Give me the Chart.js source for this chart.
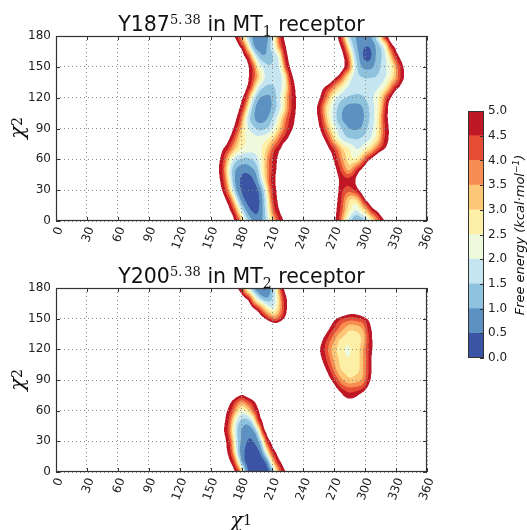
<!DOCTYPE html>
<html>
<head>
<meta charset="utf-8">
<script src="https://cdn.jsdelivr.net/npm/chart.js@4.4.1/dist/chart.umd.min.js"></script>
<style>
  html, body { margin: 0; padding: 0; background: #fff; }
  #fig { position: relative; width: 527px; height: 530px; overflow: hidden; background: #fff;
         font-family: 'DejaVu Sans', sans-serif; color: #111; }
  #fig canvas { position: absolute; }
  .title { position: absolute; left: 56px; width: 371px; text-align: center; font-size: 20.5px;
           line-height: 20px; white-space: nowrap; }
  .title sup { font-family: 'DejaVu Serif', serif; font-size: 13px; vertical-align: 7px; line-height: 0; }
  .title sup span { margin-left: 2px; }
  .title sub { font-family: 'DejaVu Serif', serif; font-size: 14px; vertical-align: -5px; line-height: 0; }
  .axlab { position: absolute; width: 60px; height: 30px; display: flex; align-items: center;
           justify-content: center; font-family: 'DejaVu Serif', serif; font-size: 21px;
           font-style: italic; white-space: nowrap; }
  .axlab sub { font-style: normal; font-size: 14px; vertical-align: -4px; line-height: 0; }
  .rot { transform: rotate(-90deg); }
  #cblabel { position: absolute; left: 420px; top: 225px; width: 200px; height: 20px; line-height: 20px;
             text-align: center; font-size: 13px; font-style: italic; white-space: nowrap;
             transform: rotate(-90deg); }
  #cblabel sup { font-size: 9px; vertical-align: 5px; line-height: 0; }
</style>
</head>
<body>
<div id="fig">
  <canvas id="mt1" width="440" height="260" style="left:0;top:0;"></canvas>
  <canvas id="mt2" width="440" height="259" style="left:0;top:252px;"></canvas>
  <canvas id="cbar" width="87" height="270" style="left:440px;top:100px;"></canvas>

  <div class="title" style="top:14px;">Y187<sup>5.<span>38</span></sup> in MT<sub>1</sub> receptor</div>
  <div class="title" style="top:266px;">Y200<sup>5.<span>38</span></sup> in MT<sub>2</sub> receptor</div>

  <div class="axlab rot" style="left:-13px;top:113px;">χ<sub>2</sub></div>
  <div class="axlab rot" style="left:-13px;top:365px;">χ<sub>2</sub></div>
  <div class="axlab" style="left:211px;top:505px;">χ<sub>1</sub></div>

  <div id="cblabel">Free energy (kcal·mol<sup>−1</sup>)</div>
</div>

<script>
// Axis ticks and the free-energy contour levels (kcal/mol)
const chi1TickValues = [0, 30, 60, 90, 120, 150, 180, 210, 240, 270, 300, 330, 360];
const chi2TickValues = [0, 30, 60, 90, 120, 150, 180];
const energyLevels = [0.0, 0.5, 1.0, 1.5, 2.0, 2.5, 3.0, 3.5, 4.0, 4.5, 5.0];

// Free-energy surfaces, sampled every 10 degrees of chi2.
// Each entry: [chi2, [[chi1, energy], ...]] -- the energy profile across one basin along that row.

// MT1, Y187: basin around chi1 ~ 160-235
const mt1LeftBand = [
  [0,   [[173,5],[177,4.5],[182,2.5],[186,1.5],[191,0.9],[196,0.7],[201,1.0],[206,2.0],[211,3.2],[216,4.5],[221,5]]],
  [10,  [[169,5],[173,4.5],[178,2.5],[182,1.4],[186,0.75],[189,0.5],[194,0.3],[198,0.6],[203,1.5],[207,2.7],[212,4.5],[217,5]]],
  [20,  [[165,5],[169,4.5],[174,2.5],[178,1.2],[181,0.7],[184,0.45],[191,0.08],[197,0.4],[200,0.9],[205,2.2],[210,4.5],[215,5]]],
  [30,  [[161,5],[165,4.5],[170,2.5],[174,1.2],[177,0.7],[181,0.4],[188,0.05],[195,0.35],[199,0.9],[203,2.0],[209,4.5],[214,5]]],
  [40,  [[159,5],[163,4.5],[168,2.5],[172,1.2],[176,0.65],[180,0.4],[185,0.15],[191,0.4],[195,0.85],[200,2.0],[208,4.5],[213,5]]],
  [50,  [[158,5],[162,4.5],[167,2.5],[172,1.2],[177,0.8],[183,0.65],[189,0.8],[195,1.2],[200,2.5],[209,4.5],[214,5]]],
  [60,  [[159,5],[163,4.5],[169,2.5],[175,1.6],[184,1.3],[193,1.6],[200,2.5],[209,4.5],[215,5]]],
  [70,  [[162,5],[167,4.5],[174,3.0],[181,2.4],[190,2.15],[199,2.4],[206,3.2],[212,4.5],[218,5]]],
  [80,  [[168,5],[172,4.5],[178,3.0],[185,2.4],[195,2.15],[205,2.4],[212,3.2],[219,4.5],[225,5]]],
  [90,  [[172,5],[176,4.5],[182,2.6],[188,1.9],[197,1.3],[205,1.5],[212,2.2],[218,3.3],[224,4.5],[230,5]]],
  [100, [[175,5],[179,4.5],[184,2.3],[189,1.3],[195,0.8],[200,0.75],[205,0.95],[210,1.5],[216,2.3],[221,3.5],[226,4.5],[232,5]]],
  [110, [[178,5],[182,4.5],[187,2.3],[191,1.3],[195,0.8],[199,0.6],[205,0.65],[209,1.0],[214,1.5],[220,2.3],[224,3.5],[228,4.5],[233,5]]],
  [120, [[181,5],[185,4.5],[190,2.3],[194,1.4],[198,0.95],[207,0.85],[212,1.3],[219,2.2],[224,3.5],[228,4.5],[233,5]]],
  [130, [[185,5],[189,4.5],[194,2.5],[198,1.7],[204,1.35],[210,1.4],[216,1.7],[222,2.3],[225,3.5],[228,4.5],[232,5]]],
  [140, [[187,5],[191,4.5],[197,3.0],[202,2.0],[207,1.7],[216,1.7],[222,2.3],[226,4.5],[230,5]]],
  [150, [[187,5],[191,4.5],[196,2.5],[200,2.0],[205,1.55],[213,1.6],[219,2.3],[223,4.5],[227,5]]],
  [160, [[183,5],[187,4.5],[193,2.0],[197,1.4],[200,1.05],[206,1.1],[212,1.6],[217,2.2],[221,4.5],[225,5]]],
  [170, [[178,5],[182,4.5],[188,2.0],[192,1.0],[195,0.65],[201,0.65],[205,1.0],[211,2.0],[219,4.5],[223,5]]],
  [180, [[173,5],[177,4.5],[184,2.0],[190,1.0],[193,0.75],[203,0.75],[207,1.0],[211,2.0],[217,4.5],[221,5]]]
];

// MT1, Y187: basin around chi1 ~ 255-340
const mt1RightBand = [
  [0,   [[271,5],[275,4.5],[279,3.0],[283,2.0],[287,1.3],[292,0.9],[297,1.1],[302,1.7],[308,3.0],[315,4.5],[319,5]]],
  [10,  [[272,5],[276,4.5],[282,3.0],[291,1.8],[300,3.0],[306,4.5],[311,5]]],
  [20,  [[273,5],[277,4.5],[281,3.5],[287,2.7],[292,2.9],[296,3.8],[298,4.5],[301,5]]],
  [30,  [[274,5],[278,4.5],[284,4.1],[290,4.5],[294,5]]],
  [40,  [[274,5],[282,4.6],[291,5]]],
  [50,  [[272,5],[276,4.5],[280,3.8],[284,3.2],[288,3.8],[292,4.5],[296,5]]],
  [60,  [[269,5],[273,4.5],[278,3.5],[285,2.6],[292,2.6],[297,3.5],[301,4.5],[305,5]]],
  [70,  [[265,5],[270,4.5],[278,3.0],[293,1.9],[305,3.0],[314,4.5],[319,5]]],
  [80,  [[260,5],[264,4.5],[270,3.0],[276,2.0],[283,1.55],[292,1.45],[300,1.7],[306,2.1],[313,3.0],[318,4.5],[323,5]]],
  [90,  [[256,5],[260,4.5],[266,3.0],[272,2.0],[278,1.4],[284,1.0],[290,0.9],[296,1.0],[302,1.5],[308,2.0],[314,3.0],[319,4.5],[323,5]]],
  [100, [[254,5],[258,4.5],[263,3.0],[268,2.0],[272,1.5],[277,1.0],[281,0.75],[288,0.6],[295,0.75],[299,1.0],[304,1.5],[309,2.0],[314,3.0],[318,4.5],[322,5]]],
  [110, [[253,5],[257,4.5],[262,3.0],[268,2.0],[273,1.5],[279,1.0],[283,0.8],[290,0.7],[296,0.85],[300,1.2],[305,1.6],[310,2.1],[315,3.0],[319,4.5],[322,5]]],
  [120, [[256,5],[260,4.5],[266,3.0],[272,2.0],[278,1.6],[285,1.4],[293,1.35],[300,1.5],[307,1.9],[313,2.5],[318,3.5],[321,4.5],[325,5]]],
  [130, [[260,5],[265,4.5],[274,3.0],[282,2.0],[288,1.7],[298,1.6],[308,1.7],[315,2.1],[321,2.8],[328,4.5],[333,5]]],
  [140, [[272,5],[276,4.5],[282,3.0],[287,2.0],[292,1.6],[300,1.45],[310,1.5],[318,1.8],[324,2.5],[330,3.5],[334,4.5],[338,5]]],
  [150, [[280,5],[284,4.5],[288,2.5],[291,1.7],[295,1.1],[300,0.8],[306,0.85],[312,1.3],[320,1.9],[326,2.5],[332,4.2],[334,4.5],[337,5]]],
  [160, [[279,5],[283,4.5],[287,2.5],[290,1.6],[294,1.0],[298,0.45],[302,0.25],[306,0.45],[310,1.0],[316,1.5],[322,2.3],[329,4.5],[333,5]]],
  [170, [[276,5],[280,4.5],[284,2.5],[288,1.5],[292,1.0],[296,0.65],[300,0.5],[304,0.5],[307,0.65],[310,1.0],[315,1.5],[320,2.5],[324,4.5],[328,5]]],
  [180, [[273,5],[277,4.5],[281,2.5],[285,1.5],[290,1.0],[294,0.85],[302,0.85],[306,1.0],[310,1.5],[314,2.5],[318,4.5],[321,5]]]
];

// MT2, Y200: lower basin (chi2 0-75)
const mt2LowerLobe = [
  [0,  [[173.6,5],[177.5,4.5],[181,2.5],[184,1.0],[186,0.5],[190,0.2],[200,0.1],[207,0.4],[210,1.0],[213,2.5],[218.5,4.5],[223,5]]],
  [10, [[169,5],[173,4.5],[177,2.5],[180,1.0],[183,0.5],[188,0.15],[198,0.1],[203,0.45],[206,1.0],[209,2.5],[214,4.5],[218,5]]],
  [20, [[166,5],[170,4.5],[174,2.5],[177,1.2],[180,0.7],[184,0.4],[190,0.15],[197,0.4],[200,0.9],[204,2.3],[209,4.5],[213,5]]],
  [30, [[165,5],[169,4.5],[173,2.5],[177,1.3],[181,0.8],[185,0.5],[189,0.4],[193,0.55],[197,1.0],[201,2.3],[204,4.5],[208,5]]],
  [40, [[163,5],[167,4.5],[172,2.5],[177,1.2],[182,0.8],[186,0.65],[190,0.75],[194,1.2],[197,2.3],[200,4.5],[203,5]]],
  [50, [[164,5],[168,4.5],[173,2.5],[178,1.5],[183,1.2],[188,1.4],[192,2.2],[196,4.5],[200,5]]],
  [60, [[166,5],[170.5,4.5],[176,3.0],[181,2.2],[187,3.0],[193,4.5],[197,5]]],
  [70, [[171,5],[175,4.5],[180,3.8],[186,4.5],[192,5]]],
  [80, [[175,6.4],[181,6.0],[187,6.4]]]
];

// MT2, Y200: upper basin running into chi2 = 180
const mt2UpperLobe = [
  [140, [[207,6.8],[213,6.5],[219,6.8]]],
  [150, [[203,5],[206,4.5],[213,3.8],[218,4.5],[221,5]]],
  [160, [[192,5],[196,4.5],[203,3.0],[210,1.9],[216,3.0],[221,4.5],[224,5]]],
  [170, [[184,5],[188,4.5],[193,2.5],[198,1.5],[203,1.0],[207,1.1],[211,1.7],[215,2.5],[220,4.5],[224,5]]],
  [180, [[176,5],[180,4.5],[185,2.5],[189,1.5],[193,0.8],[198,0.45],[203,0.4],[207,0.7],[211,1.5],[214,2.5],[218,4.5],[221,5]]]
];

// MT2, Y200: shallow basin near chi1 ~ 285
const mt2SideLobe = [
  [70,  [[279,5.6],[285,5.2],[292,5.6]]],
  [80,  [[274,5],[278,4.6],[284,4.3],[292,4.4],[297,4.6],[300,5]]],
  [90,  [[267,5],[271,4.5],[274,4.0],[278,3.5],[285,3.1],[292,3.3],[297,3.5],[300,4.0],[302,4.5],[305,5]]],
  [100, [[262,5],[266,4.5],[269,4.0],[272,3.5],[276,3.0],[284,2.7],[292,2.85],[295,3.0],[298,3.5],[301,4.0],[303,4.5],[306,5]]],
  [110, [[258,5],[262.5,4.5],[266,4.0],[269,3.5],[274,3.0],[283,2.5],[290,2.7],[295,3.0],[298,3.5],[301,4.0],[303,4.5],[306,5]]],
  [120, [[256,5],[261,4.5],[264,4.0],[267,3.5],[272,3.0],[282,2.35],[290,2.65],[295,3.0],[298,3.5],[300.5,4.0],[303,4.5],[307,5]]],
  [130, [[259,5],[263,4.5],[267,4.0],[271,3.5],[275,3.0],[283,2.7],[292,2.75],[297,3.0],[300,3.5],[303,4.5],[307,5]]],
  [140, [[265,5],[269,4.5],[274,4.0],[279,3.5],[285,3.05],[292,3.15],[298,3.5],[302,4.5],[306,5]]],
  [150, [[272,5],[277,4.5],[287,4.2],[297,4.5],[302,5]]],
  [160, [[282,6.3],[288,6.0],[294,6.3]]]
];

// ---- styling ----
const levelColors = ['#3b55a4', '#5c91c2', '#8fc3dd', '#c5e6f0', '#eff9db',
                     '#feefa7', '#fdc778', '#f88d52', '#e54e35', '#be1826'];
const TEXT = '#222';
const FRAME = '#333';
const TICK_FONT = { family: 'DejaVu Sans', size: 12 };

Chart.defaults.font.family = 'DejaVu Sans';
Chart.defaults.color = TEXT;

// ---- surface evaluation ----
const ROW_STEP = 10;          // chi2 spacing between sampled rows
const OUTSIDE_SLOPE = 0.15;   // energy rise per degree beyond a basin's outer knot
const CEILING = 9;
const SMOOTH_SIGMA = 1.5;     // smoothing of the sampled surface, in screen pixels

function buildRows(bands) {
  const rows = [];
  for (let r = 0; r <= 180 / ROW_STEP; r++) rows.push([]);
  for (const band of bands) {
    for (const [c2, knots] of band) rows[Math.round(c2 / ROW_STEP)].push(knots);
  }
  return rows;
}

function rowEnergy(knotSets, chi1) {
  let best = CEILING;
  for (const k of knotSets) {
    const n = k.length;
    if (chi1 >= k[0][0] && chi1 <= k[n - 1][0]) {
      for (let i = 0; i < n - 1; i++) {
        if (chi1 <= k[i + 1][0]) {
          const t = (chi1 - k[i][0]) / (k[i + 1][0] - k[i][0]);
          return k[i][1] + t * (k[i + 1][1] - k[i][1]);
        }
      }
    }
    const out = chi1 < k[0][0]
      ? k[0][1] + OUTSIDE_SLOPE * (k[0][0] - chi1)
      : k[n - 1][1] + OUTSIDE_SLOPE * (chi1 - k[n - 1][0]);
    best = Math.min(best, out);
  }
  return Math.min(best, CEILING);
}

function gaussianSmooth(f, W, H, sigma) {
  const r = Math.ceil(sigma * 3);
  const k = new Float32Array(2 * r + 1);
  let s = 0;
  for (let i = -r; i <= r; i++) { k[i + r] = Math.exp(-i * i / (2 * sigma * sigma)); s += k[i + r]; }
  for (let i = 0; i < k.length; i++) k[i] /= s;
  const tmp = new Float32Array(W * H);
  for (let j = 0; j < H; j++) {
    const row = j * W;
    for (let i = 0; i < W; i++) {
      let acc = 0;
      for (let q = -r; q <= r; q++) {
        let ii = i + q; if (ii < 0) ii = 0; else if (ii >= W) ii = W - 1;
        acc += k[q + r] * f[row + ii];
      }
      tmp[row + i] = acc;
    }
  }
  const out = new Float32Array(W * H);
  for (let j = 0; j < H; j++) {
    for (let i = 0; i < W; i++) {
      let acc = 0;
      for (let q = -r; q <= r; q++) {
        let jj = j + q; if (jj < 0) jj = 0; else if (jj >= H) jj = H - 1;
        acc += k[q + r] * tmp[jj * W + i];
      }
      out[j * W + i] = acc;
    }
  }
  return out;
}

function hexToRgb(h) {
  const n = parseInt(h.slice(1), 16);
  return [(n >> 16) & 255, (n >> 8) & 255, n & 255];
}
const levelRgb = levelColors.map(hexToRgb);

function levelIndex(v) {
  for (let k = 0; k < energyLevels.length - 1; k++) {
    if (v < energyLevels[k + 1]) return k;
  }
  return -1;
}

// Filled contour layer, painted under the grid
function surfacePlugin(bands) {
  const rows = buildRows(bands);
  return {
    id: 'energySurface',
    beforeDraw(chart) {
      const { ctx, chartArea: a, scales: { x, y } } = chart;
      const S = 2;
      const w = Math.round(a.right - a.left), h = Math.round(a.bottom - a.top);
      const W = w * S, H = h * S;
      const rowVals = rows.map(knotSets => {
        const arr = new Float32Array(W);
        for (let i = 0; i < W; i++) {
          arr[i] = rowEnergy(knotSets, x.getValueForPixel(a.left + (i + 0.5) / S));
        }
        return arr;
      });
      const nR = rows.length;
      const field = new Float32Array(W * H);
      for (let j = 0; j < H; j++) {
        let c2 = y.getValueForPixel(a.top + (j + 0.5) / S);
        c2 = Math.max(0, Math.min(180, c2));
        let r = Math.floor(c2 / ROW_STEP);
        if (r >= nR - 1) r = nR - 2;
        const t = c2 / ROW_STEP - r;
        const R0 = rowVals[Math.max(0, r - 1)], R1 = rowVals[r],
              R2 = rowVals[r + 1], R3 = rowVals[Math.min(nR - 1, r + 2)];
        const t2 = t * t, t3 = t2 * t;
        for (let i = 0; i < W; i++) {
          const p0 = R0[i], p1 = R1[i], p2 = R2[i], p3 = R3[i];
          let v = 0.5 * (2 * p1 + (-p0 + p2) * t + (2 * p0 - 5 * p1 + 4 * p2 - p3) * t2 +
                         (-p0 + 3 * p1 - 3 * p2 + p3) * t3);
          const lo = Math.min(p1, p2), hi = Math.max(p1, p2);
          if (v < lo) v = lo; else if (v > hi) v = hi;
          field[j * W + i] = v;
        }
      }
      const sm = gaussianSmooth(field, W, H, SMOOTH_SIGMA * S);
      const off = document.createElement('canvas');
      off.width = W; off.height = H;
      const octx = off.getContext('2d');
      const img = octx.createImageData(W, H);
      const d = img.data;
      for (let p = 0; p < W * H; p++) {
        const k = levelIndex(sm[p]);
        if (k < 0) continue;
        const o = p * 4, c = levelRgb[k];
        d[o] = c[0]; d[o + 1] = c[1]; d[o + 2] = c[2]; d[o + 3] = 255;
      }
      octx.putImageData(img, 0, 0);
      ctx.save();
      ctx.imageSmoothingEnabled = true;
      ctx.imageSmoothingQuality = 'high';
      ctx.drawImage(off, a.left, a.top, w, h);
      ctx.restore();
    }
  };
}

// Axes frame and inward tick marks on all four sides
const framePlugin = {
  id: 'frameTicks',
  afterDraw(chart) {
    const { ctx, chartArea: a, scales: { x, y } } = chart;
    const L = 4;
    ctx.save();
    ctx.strokeStyle = FRAME;
    ctx.lineWidth = 1;
    ctx.beginPath();
    for (const v of chi1TickValues) {
      const px = Math.round(x.getPixelForValue(v)) + 0.5;
      ctx.moveTo(px, a.bottom); ctx.lineTo(px, a.bottom - L);
      ctx.moveTo(px, a.top); ctx.lineTo(px, a.top + L);
    }
    for (const v of chi2TickValues) {
      const py = Math.round(y.getPixelForValue(v)) + 0.5;
      ctx.moveTo(a.left, py); ctx.lineTo(a.left + L, py);
      ctx.moveTo(a.right, py); ctx.lineTo(a.right - L, py);
    }
    ctx.stroke();
    ctx.lineWidth = 1.2;
    ctx.strokeRect(a.left + 0.5, a.top + 0.5, a.right - a.left - 1, a.bottom - a.top - 1);
    ctx.restore();
  }
};

function makePanel(id, bands) {
  return new Chart(document.getElementById(id), {
    type: 'scatter',
    data: { datasets: [] },
    options: {
      responsive: false,
      animation: false,
      events: [],
      layout: { padding: { left: 0, top: 36, right: 13, bottom: 0 } },
      plugins: { legend: { display: false }, tooltip: { enabled: false }, title: { display: false } },
      scales: {
        x: {
          type: 'linear', min: 0, max: 360,
          afterBuildTicks: s => { s.ticks = chi1TickValues.map(v => ({ value: v })); },
          afterFit: s => { s.height = 39; s.paddingLeft = 0; s.paddingRight = 0; },
          ticks: { autoSkip: false, minRotation: 70, maxRotation: 70, font: TICK_FONT, color: TEXT,
                   padding: 4, labelOffset: 4 },
          grid: { color: '#8c8c8c', lineWidth: 1, drawTicks: false },
          border: { display: false, dash: [1, 3] }
        },
        y: {
          type: 'linear', min: 0, max: 180,
          afterBuildTicks: s => { s.ticks = chi2TickValues.map(v => ({ value: v })); },
          afterFit: s => { s.width = 56; s.paddingTop = 0; s.paddingBottom = 0; },
          ticks: { autoSkip: false, font: TICK_FONT, color: TEXT, padding: 5 },
          grid: { color: '#8c8c8c', lineWidth: 1, drawTicks: false },
          border: { display: false, dash: [1, 3] }
        }
      }
    },
    plugins: [surfacePlugin(bands), framePlugin]
  });
}

makePanel('mt1', [mt1LeftBand, mt1RightBand]);
makePanel('mt2', [mt2LowerLobe, mt2UpperLobe, mt2SideLobe]);

// ---- colour bar ----
const colorbarFrame = {
  id: 'colorbarFrame',
  afterDraw(chart) {
    const { ctx, chartArea: a, scales: { y } } = chart;
    ctx.save();
    ctx.strokeStyle = FRAME;
    ctx.lineWidth = 1;
    ctx.beginPath();
    for (const v of energyLevels) {
      const py = Math.round(y.getPixelForValue(v)) + 0.5;
      ctx.moveTo(a.right, py); ctx.lineTo(a.right - 4, py);
    }
    ctx.stroke();
    ctx.strokeRect(a.left + 0.5, a.top + 0.5, a.right - a.left - 1, a.bottom - a.top - 1);
    ctx.restore();
  }
};

new Chart(document.getElementById('cbar'), {
  type: 'bar',
  data: {
    labels: [''],
    datasets: levelColors.map((c, k) => ({
      data: [energyLevels[k + 1] - energyLevels[k]],
      backgroundColor: c,
      borderWidth: 0,
      barPercentage: 1,
      categoryPercentage: 1
    }))
  },
  options: {
    responsive: false,
    animation: false,
    events: [],
    layout: { padding: { left: 28, top: 11, right: 0, bottom: 12 } },
    plugins: { legend: { display: false }, tooltip: { enabled: false } },
    scales: {
      x: { stacked: true, display: false },
      y: {
        stacked: true, position: 'right', min: 0, max: 5,
        afterBuildTicks: s => { s.ticks = energyLevels.map(v => ({ value: v })); },
        afterFit: s => { s.width = 43; s.paddingTop = 0; s.paddingBottom = 0; },
        ticks: { autoSkip: false, font: TICK_FONT, color: TEXT, padding: 4,
                 callback: v => Number(v).toFixed(1) },
        grid: { display: false, drawTicks: false },
        border: { display: false }
      }
    }
  },
  plugins: [colorbarFrame]
});
</script>
</body>
</html>
